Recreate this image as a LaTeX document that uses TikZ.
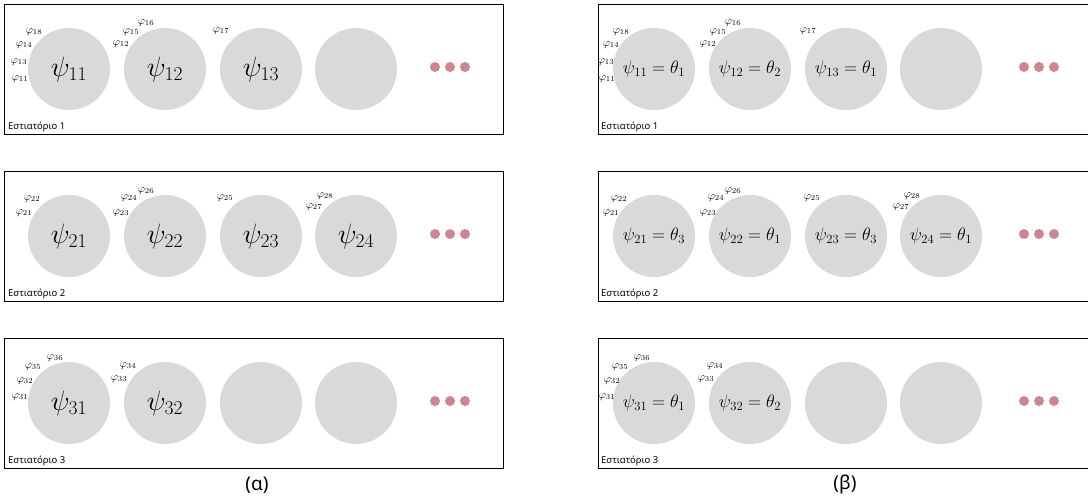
\RequirePackage{fix-cm}
\documentclass[tikz,border=0pt]{standalone}
\usepackage{fontspec}
\newfontfamily\grfont{Noto Sans}
\definecolor{circgray}{RGB}{217,217,217}
\definecolor{dotpink}{RGB}{204,134,146}
\begin{document}
\begin{tikzpicture}[x=1pt,y=-1pt,
 circ/.style={circle,fill=circgray,minimum size=82pt,inner sep=0pt},
 bigpsi/.style={circ,font=\fontsize{28}{32}\selectfont},
 smallpsi/.style={circ,font=\fontsize{18}{22}\selectfont},
 phil/.style={font=\fontsize{11}{13}\selectfont,inner sep=0pt},
 frame/.style={draw=black,line width=0.8pt,inner sep=0pt,anchor=north west},
 lframe/.style={frame,minimum width=499pt,minimum height=130pt},
 rframe/.style={frame,minimum width=495pt,minimum height=130pt},
 rlabel/.style={font=\grfont\fontsize{9.5}{11}\selectfont,anchor=base west,inner sep=0pt},
 pdot/.style={circle,fill=dotpink,minimum size=10pt,inner sep=0pt},
 captext/.style={font=\grfont\fontsize{19}{22}\selectfont,inner sep=0pt}
]
\clip (0,0) rectangle (1088,499);
\fill[white] (0,0) rectangle (1088,499);
% ---------- left panel ----------
\node[lframe] (LA) at (4,4) {};
\node[lframe] (LB) at (4,171) {};
\node[lframe] (LC) at (4,338) {};
\node[rlabel] (LAt) at (8,129) {Εστιατόριο 1};
\node[rlabel] (LBt) at (8,296) {Εστιατόριο 2};
\node[rlabel] (LCt) at (8,463) {Εστιατόριο 3};
% row 1
\node[bigpsi] (a11) at (69,69) {$\psi_{11}$};
\node[bigpsi] (a12) at (165,69) {$\psi_{12}$};
\node[bigpsi] (a13) at (261,69) {$\psi_{13}$};
\node[circ] (a14) at (356,69) {};
\node[pdot] (ad11) at (435,67) {};
\node[pdot] (ad12) at (450,67) {};
\node[pdot] (ad13) at (465,67) {};
\node[phil] (ap18) at (34,32) {$\varphi_{18}$};
\node[phil] (ap14) at (24,45) {$\varphi_{14}$};
\node[phil] (ap13) at (19,62) {$\varphi_{13}$};
\node[phil] (ap11) at (20,79) {$\varphi_{11}$};
\node[phil] (ap12) at (121,44) {$\varphi_{12}$};
\node[phil] (ap15) at (131,32) {$\varphi_{15}$};
\node[phil] (ap16) at (146,23) {$\varphi_{16}$};
\node[phil] (ap17) at (221,31) {$\varphi_{17}$};
% row 2
\node[bigpsi] (a21) at (69,236) {$\psi_{21}$};
\node[bigpsi] (a22) at (165,236) {$\psi_{22}$};
\node[bigpsi] (a23) at (261,236) {$\psi_{23}$};
\node[bigpsi] (a24) at (356,236) {$\psi_{24}$};
\node[pdot] (ad21) at (435,234) {};
\node[pdot] (ad22) at (450,234) {};
\node[pdot] (ad23) at (465,234) {};
\node[phil] (ap22) at (32,199) {$\varphi_{22}$};
\node[phil] (ap21) at (24,213) {$\varphi_{21}$};
\node[phil] (ap24) at (129,198) {$\varphi_{24}$};
\node[phil] (ap26) at (146,191) {$\varphi_{26}$};
\node[phil] (ap23) at (121,213) {$\varphi_{23}$};
\node[phil] (ap25) at (225,198) {$\varphi_{25}$};
\node[phil] (ap28) at (325,196) {$\varphi_{28}$};
\node[phil] (ap27) at (314,207) {$\varphi_{27}$};
% row 3
\node[bigpsi] (a31) at (69,403) {$\psi_{31}$};
\node[bigpsi] (a32) at (165,403) {$\psi_{32}$};
\node[circ] (a33) at (261,403) {};
\node[circ] (a34) at (356,403) {};
\node[pdot] (ad31) at (435,401) {};
\node[pdot] (ad32) at (450,401) {};
\node[pdot] (ad33) at (465,401) {};
\node[phil] (ap36) at (55,358) {$\varphi_{36}$};
\node[phil] (ap35) at (33,367) {$\varphi_{35}$};
\node[phil] (ap32) at (25,381) {$\varphi_{32}$};
\node[phil] (ap31) at (20,397) {$\varphi_{31}$};
\node[phil] (ap34) at (128,366) {$\varphi_{34}$};
\node[phil] (ap33) at (119,379) {$\varphi_{33}$};
\node[captext] (capa) at (257,485) {(α)};
% ---------- right panel ----------
\node[rframe] (RA) at (598,4) {};
\node[rframe] (RB) at (598,171) {};
\node[rframe] (RC) at (598,338) {};
\node[rlabel] (RAt) at (601,129) {Εστιατόριο 1};
\node[rlabel] (RBt) at (601,296) {Εστιατόριο 2};
\node[rlabel] (RCt) at (601,463) {Εστιατόριο 3};
% row 1
\node[smallpsi] (b11) at (654,69) {$\psi_{11}=\theta_1$};
\node[smallpsi] (b12) at (750,69) {$\psi_{12}=\theta_2$};
\node[smallpsi] (b13) at (846,69) {$\psi_{13}=\theta_1$};
\node[circ] (b14) at (941,69) {};
\node[pdot] (bd11) at (1024,67) {};
\node[pdot] (bd12) at (1039,67) {};
\node[pdot] (bd13) at (1054,67) {};
\node[phil] (bp18) at (621,32) {$\varphi_{18}$};
\node[phil] (bp14) at (611,45) {$\varphi_{14}$};
\node[phil] (bp13) at (606,62) {$\varphi_{13}$};
\node[phil] (bp11) at (607,79) {$\varphi_{11}$};
\node[phil] (bp12) at (708,44) {$\varphi_{12}$};
\node[phil] (bp15) at (718,32) {$\varphi_{15}$};
\node[phil] (bp16) at (733,23) {$\varphi_{16}$};
\node[phil] (bp17) at (808,31) {$\varphi_{17}$};
% row 2
\node[smallpsi] (b21) at (654,236) {$\psi_{21}=\theta_3$};
\node[smallpsi] (b22) at (750,236) {$\psi_{22}=\theta_1$};
\node[smallpsi] (b23) at (846,236) {$\psi_{23}=\theta_3$};
\node[smallpsi] (b24) at (941,236) {$\psi_{24}=\theta_1$};
\node[pdot] (bd21) at (1024,234) {};
\node[pdot] (bd22) at (1039,234) {};
\node[pdot] (bd23) at (1054,234) {};
\node[phil] (bp22) at (619,199) {$\varphi_{22}$};
\node[phil] (bp21) at (611,213) {$\varphi_{21}$};
\node[phil] (bp24) at (716,198) {$\varphi_{24}$};
\node[phil] (bp26) at (733,191) {$\varphi_{26}$};
\node[phil] (bp23) at (708,213) {$\varphi_{23}$};
\node[phil] (bp25) at (812,198) {$\varphi_{25}$};
\node[phil] (bp28) at (912,196) {$\varphi_{28}$};
\node[phil] (bp27) at (901,207) {$\varphi_{27}$};
% row 3
\node[smallpsi] (b31) at (654,403) {$\psi_{31}=\theta_1$};
\node[smallpsi] (b32) at (750,403) {$\psi_{32}=\theta_2$};
\node[circ] (b33) at (846,403) {};
\node[circ] (b34) at (941,403) {};
\node[pdot] (bd31) at (1024,401) {};
\node[pdot] (bd32) at (1039,401) {};
\node[pdot] (bd33) at (1054,401) {};
\node[phil] (bp36) at (642,358) {$\varphi_{36}$};
\node[phil] (bp35) at (620,367) {$\varphi_{35}$};
\node[phil] (bp32) at (612,381) {$\varphi_{32}$};
\node[phil] (bp31) at (607,397) {$\varphi_{31}$};
\node[phil] (bp34) at (715,366) {$\varphi_{34}$};
\node[phil] (bp33) at (706,379) {$\varphi_{33}$};
\node[captext] (capb) at (845,485) {(β)};
\end{tikzpicture}
\end{document}
